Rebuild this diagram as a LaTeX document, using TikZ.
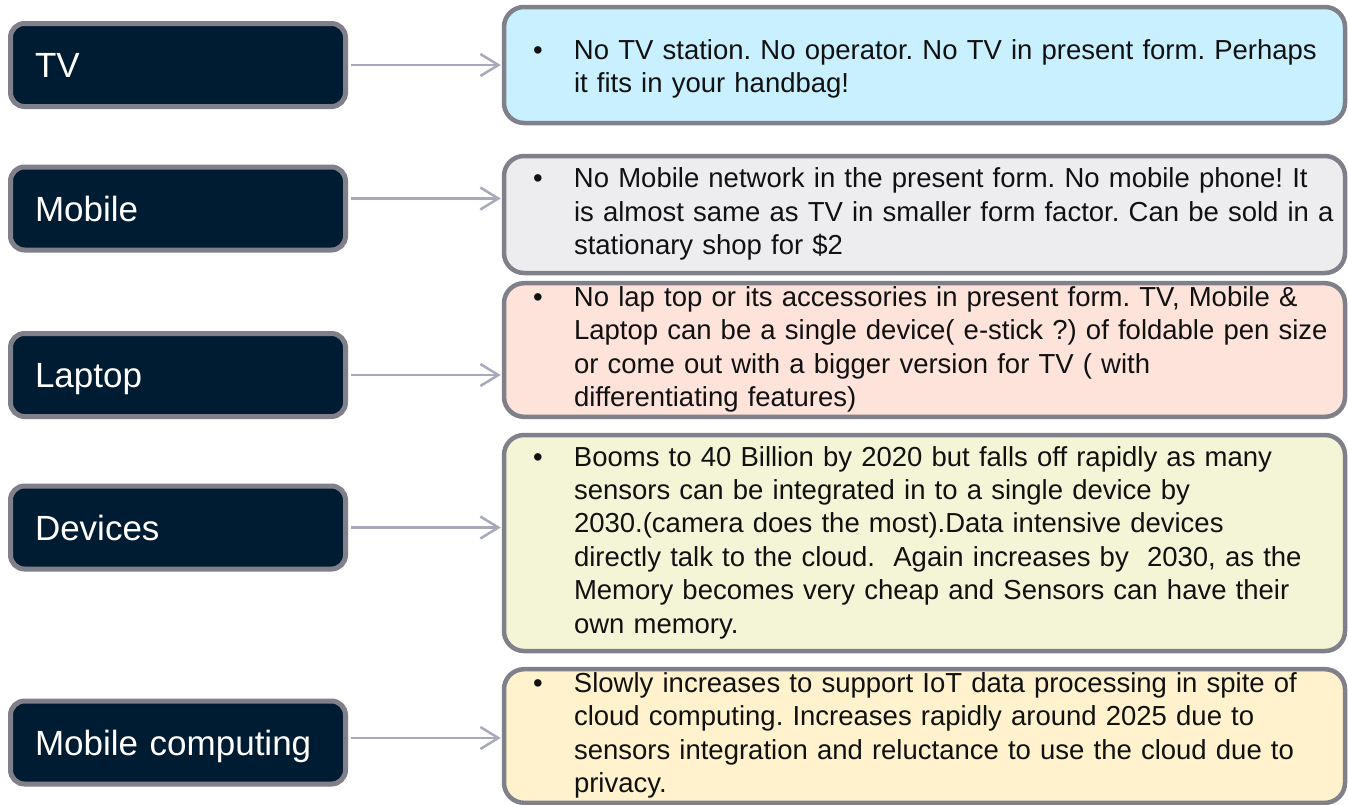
\documentclass[tikz,border=0pt]{standalone}
\usepackage{fontspec}
\setmainfont{Liberation Sans}
\usetikzlibrary{arrows.meta}
\frenchspacing

% Colori
\definecolor{navy}{RGB}{0,28,50}
\definecolor{bordo}{RGB}{128,128,138}
\definecolor{grigio}{RGB}{168,170,187}
\definecolor{testo}{RGB}{17,17,17}
\definecolor{tvfill}{RGB}{200,240,255}
\definecolor{mobfill}{RGB}{237,237,240}
\definecolor{lapfill}{RGB}{253,227,218}
\definecolor{devfill}{RGB}{243,245,214}
\definecolor{mcfill}{RGB}{255,242,204}

% Punto elenco con righe allineate
\newcommand{\punto}[1]{\begin{tabular}{@{}p{41pt}@{}l@{}}\textbullet & #1\end{tabular}}

\begin{document}
\begin{tikzpicture}[x=1pt, y=-1pt,
    etichetta/.style={draw=bordo, line width=5pt, fill=navy, rounded corners=14pt,
        minimum height=83pt, text width=286pt, inner xsep=24.5pt, inner ysep=0pt,
        align=left, text=white, font=\fontsize{35}{42}\selectfont,
        text height=25pt, text depth=0pt},
    riquadro/.style={draw=bordo, line width=4.5pt, rounded corners=20pt,
        text width=783pt, inner xsep=29pt, inner ysep=0pt,
        align=left, text=testo, font=\fontsize{27.5}{33.4}\selectfont},
    freccia/.style={draw=grigio, line width=2.5pt, shorten <=2.5pt, shorten >=1pt,
        -{Straight Barb[length=18pt, width=22pt]}}]
    \useasboundingbox (0,0) rectangle (1348,804);

    % Etichette a sinistra
    \node[etichetta] (tv) at (178,65) {TV};
    \node[etichetta] (mob) at (178,208.5) {Mobile};
    \node[etichetta] (lap) at (178,375) {Laptop};
    \node[etichetta] (dev) at (178,527.5) {Devices};
    \node[etichetta] (mc) at (178,742.5) {Mobile computing};

    % Riquadri di testo a destra
    \node[riquadro, fill=tvfill, minimum height=116pt, text height=44pt, text depth=22.8pt]
        (tvinfo) at (924.5,65)
        {\punto{No TV station. No operator. No TV in present form. Perhaps\\
        & it fits in your handbag!}};
    \node[riquadro, fill=mobfill, minimum height=117pt] (mobinfo) at (924.5,214.5)
        {\punto{No Mobile network in the present form. No mobile phone! It\\
        & is almost same as TV in smaller form factor. Can be sold in a\\
        & stationary shop for \$2}};
    \node[riquadro, fill=lapfill, minimum height=132pt] (lapinfo) at (924.5,350)
        {\punto{No lap top or its accessories in present form. TV, Mobile \&\\
        & Laptop can be a single device( e-stick ?) of foldable pen size\\
        & or come out with a bigger version for TV ( with\\
        & differentiating features)}};
    \node[riquadro, fill=devfill, minimum height=216pt] (devinfo) at (924.5,543)
        {\punto{Booms to 40 Billion by 2020 but falls off rapidly as many\\
        & sensors can be integrated in to a single device by\\
        & 2030.(camera does the most).Data intensive devices\\
        & directly talk to the cloud.\ \ Again increases by\ \ 2030, as the\\
        & Memory becomes very cheap and Sensors can have their\\
        & own memory.}};
    \node[riquadro, fill=mcfill, minimum height=132pt] (mcinfo) at (924.5,736)
        {\punto{Slowly increases to support IoT data processing in spite of\\
        & cloud computing. Increases rapidly around 2025 due to\\
        & sensors integration and reluctance to use the cloud due to\\
        & privacy.}};

    % Frecce
    \draw[freccia] (tv.east) -- (tv.east -| tvinfo.west);
    \draw[freccia] ([yshift=10pt]mob.east) -- ([yshift=10pt]mob.east -| mobinfo.west);
    \draw[freccia] (lap.east) -- (lap.east -| lapinfo.west);
    \draw[freccia] (dev.east) -- (dev.east -| devinfo.west);
    \draw[freccia] ([yshift=4.5pt]mc.east) -- ([yshift=4.5pt]mc.east -| mcinfo.west);

\end{tikzpicture}
\end{document}
